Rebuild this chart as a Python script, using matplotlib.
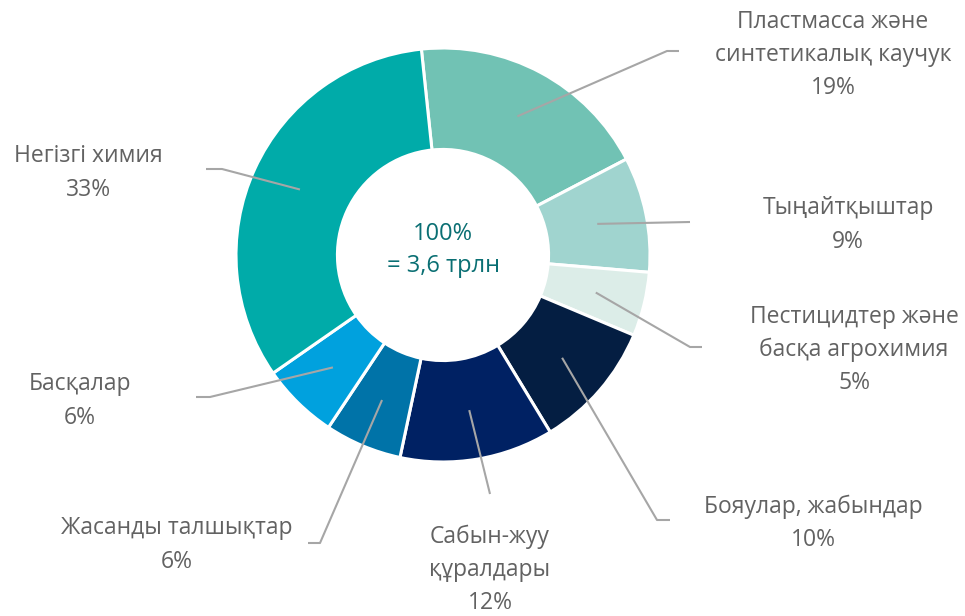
import numpy as np
import matplotlib
matplotlib.use("Agg")
import matplotlib.pyplot as plt

plt.rcParams['font.family'] = ['Open Sans', 'DejaVu Sans']

labels = ["Пластмасса және\nсинтетикалық каучук", "Тыңайтқыштар",
          "Пестицидтер және\nбасқа агрохимия", "Бояулар, жабындар",
          "Сабын-жуу\nқұралдары", "Жасанды талшықтар", "Басқалар", "Негізгі химия"]
shares = [19, 9, 5, 10, 12, 6, 6, 33]
colors = ["#71C2B4", "#A0D4CF", "#DCEDE8", "#041E42", "#002163",
          "#0073A8", "#00A1DE", "#00ABA9"]

# layout in pixels (figure 965x616, pie center 443,255, radius 207)
cx, cy, R = 443, 255, 207
text_pos = [(833, 55), (848, 225), (854, 350), (813, 523),
            (490, 570), (177, 545), (80, 401), (88, 173)]
elbows = [((667, 51), (679, 51)), ((690, 222), (690, 222)),
          ((690, 347), (702, 347)), ((657, 520), (670, 520)),
          ((490, 494), (490, 494)), ((320, 543), (308, 543)),
          ((210, 397), (196, 397)), ((222, 169), (206, 169))]


def px(p):
    return ((p[0] - cx) / R, (cy - p[1]) / R)


fig = plt.figure(figsize=(9.65, 6.16), dpi=100)
ax = fig.add_axes([0, 0, 1, 1])

start = 96
wedges, _ = ax.pie(shares, colors=colors, startangle=start, counterclock=False,
                   radius=1, wedgeprops=dict(width=0.49, edgecolor='white', linewidth=2.2))

ax.set_xlim(-cx / R, (965 - cx) / R)
ax.set_ylim(-(616 - cy) / R, cy / R)
ax.set_aspect('equal', adjustable='box')
ax.axis('off')

for w, lab, v, tp, (e1, e2) in zip(wedges, labels, shares, text_pos, elbows):
    mid = np.deg2rad((w.theta1 + w.theta2) / 2)
    sx, sy = 0.76 * np.cos(mid), 0.76 * np.sin(mid)
    ex, ey = px(e1)
    fx, fy = px(e2)
    ax.plot([sx, ex, fx], [sy, ey, fy], color="#A6A6A6", lw=1.5,
            solid_capstyle='butt', zorder=5)
    tx, ty = px(tp)
    ax.text(tx, ty, f"{lab}\n{v}%", ha='center', va='center', fontsize=16.5,
            color="#626262", linespacing=1.5)

ax.text(0, (cy - 250) / R, "100%\n= 3,6 трлн", ha='center', va='center',
        fontsize=17, color="#0A6F73", linespacing=1.5)

fig.savefig("out.png", dpi=100)
